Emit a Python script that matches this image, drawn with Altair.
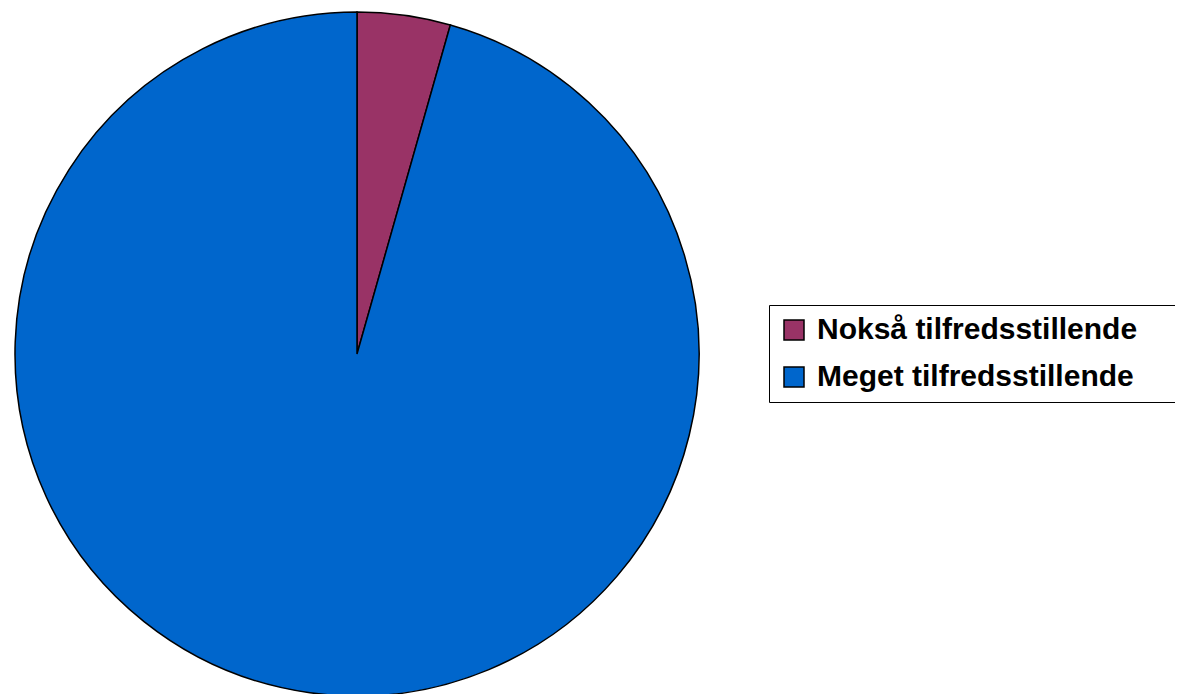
import altair as alt
import pandas as pd

categories = ["Nokså tilfredsstillende", "Meget tilfredsstillende"]
shares = [4.4, 95.6]
colors = ["#993366", "#0066CC"]

df = pd.DataFrame({"category": categories, "share": shares, "order": [0, 1]})

chart = alt.Chart(df).mark_arc(radius=342, stroke="black", strokeWidth=1.5).encode(
    theta=alt.Theta("share:Q", stack=True),
    order=alt.Order("order:Q"),
    x=alt.value(349),
    y=alt.value(346),
    color=alt.Color(
        "category:N",
        scale=alt.Scale(domain=categories, range=colors),
        sort=categories,
        legend=alt.Legend(
            title=None,
            orient="none",
            legendX=761,
            legendY=297,
            direction="vertical",
            fillColor="white",
            strokeColor="black",
            padding=10,
            symbolType="square",
            symbolSize=400,
            symbolStrokeColor="black",
            symbolStrokeWidth=1.5,
            symbolOpacity=1,
            labelFont="Liberation Sans",
            labelFontSize=30,
            labelFontWeight="bold",
            labelColor="black",
            labelOffset=8,
            labelLimit=1000,
            labelExpr="datum.label + '\\u2003\\u2003\\u2003\\u200b'",
            rowPadding=17,
        ),
    ),
).properties(
    width=1167,
    height=686,
    padding=0,
    autosize=alt.AutoSizeParams(type="none"),
).configure_view(stroke=None)

chart.save("out.html", embed_options={"renderer": "svg", "actions": False})
